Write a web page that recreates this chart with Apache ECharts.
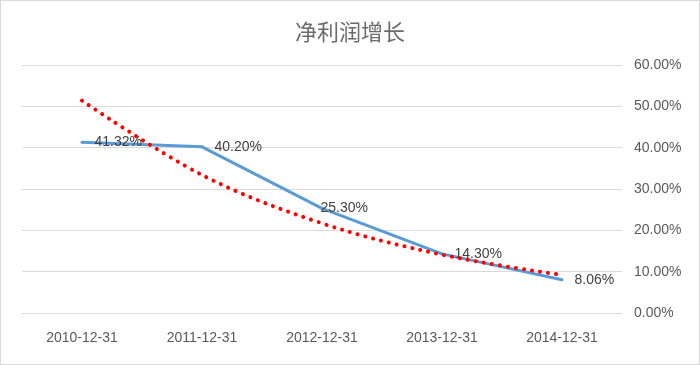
<!DOCTYPE html>
<html>
<head>
<meta charset="utf-8">
<script src="https://cdn.jsdelivr.net/npm/echarts@6/dist/echarts.min.js"></script>
<style>
html,body{margin:0;padding:0;background:#fff;}
#wrap{width:700px;height:365px;box-sizing:border-box;border:1px solid #D9D9D9;}
#c{width:698px;height:363px;}
</style>
</head>
<body>
<div id="wrap"><div id="c"></div></div>
<script>
var titleText = '净利润增长';
var categories = ['2010-12-31', '2011-12-31', '2012-12-31', '2013-12-31', '2014-12-31'];
var growthValues = [41.32, 40.20, 25.30, 14.30, 8.06];
var trendValues = [51.4, 33.4, 21.7, 14.1, 9.2];
var yTicks = [0, 10, 20, 30, 40, 50, 60];

var chart = echarts.init(document.getElementById('c'), null, {renderer: 'canvas'});
var lineData = growthValues.map(function (v, i) {
  var item = {value: v};
  if (i === 2) item.label = {offset: [-14, 0]};
  return item;
});
chart.setOption({
  animation: false,
  backgroundColor: '#fff',
  title: {
    text: titleText, left: 'center', top: 15,
    textStyle: {fontFamily: 'Noto Sans CJK SC', fontSize: 22, fontWeight: 'normal', color: '#6b6b6b'}
  },
  grid: {left: 21, right: 77, top: 64, bottom: 51, containLabel: false},
  xAxis: {
    type: 'category', data: categories, boundaryGap: true,
    axisLine: {show: true, lineStyle: {color: '#D9D9D9'}},
    axisTick: {show: false},
    axisLabel: {margin: 18, color: '#595959', fontFamily: 'Liberation Sans', fontSize: 14}
  },
  yAxis: {
    type: 'value', position: 'right', min: yTicks[0], max: yTicks[yTicks.length - 1], interval: 10,
    axisLine: {show: false}, axisTick: {show: false},
    splitLine: {lineStyle: {color: '#D9D9D9', width: 1}},
    axisLabel: {margin: 12, color: '#595959', fontFamily: 'Liberation Sans', fontSize: 14,
      formatter: function (v) { return v.toFixed(2) + '%'; }}
  },
  series: [{
    type: 'line', data: lineData, symbol: 'circle', symbolSize: 3, showSymbol: true,
    lineStyle: {color: '#5B9BD5', width: 3},
    itemStyle: {color: '#5B9BD5'},
    label: {show: true, position: 'right', distance: 11, color: '#404040',
      fontFamily: 'Liberation Sans', fontSize: 14,
      formatter: function (p) { return Number(p.value).toFixed(2) + '%'; }},
    z: 3
  }, {
    type: 'line', data: trendValues, symbol: 'none', smooth: 0.35,
    lineStyle: {color: '#FF0000', width: 4, type: [0.1, 8], cap: 'round'},
    z: 4, silent: true
  }]
});
</script>
</body>
</html>
